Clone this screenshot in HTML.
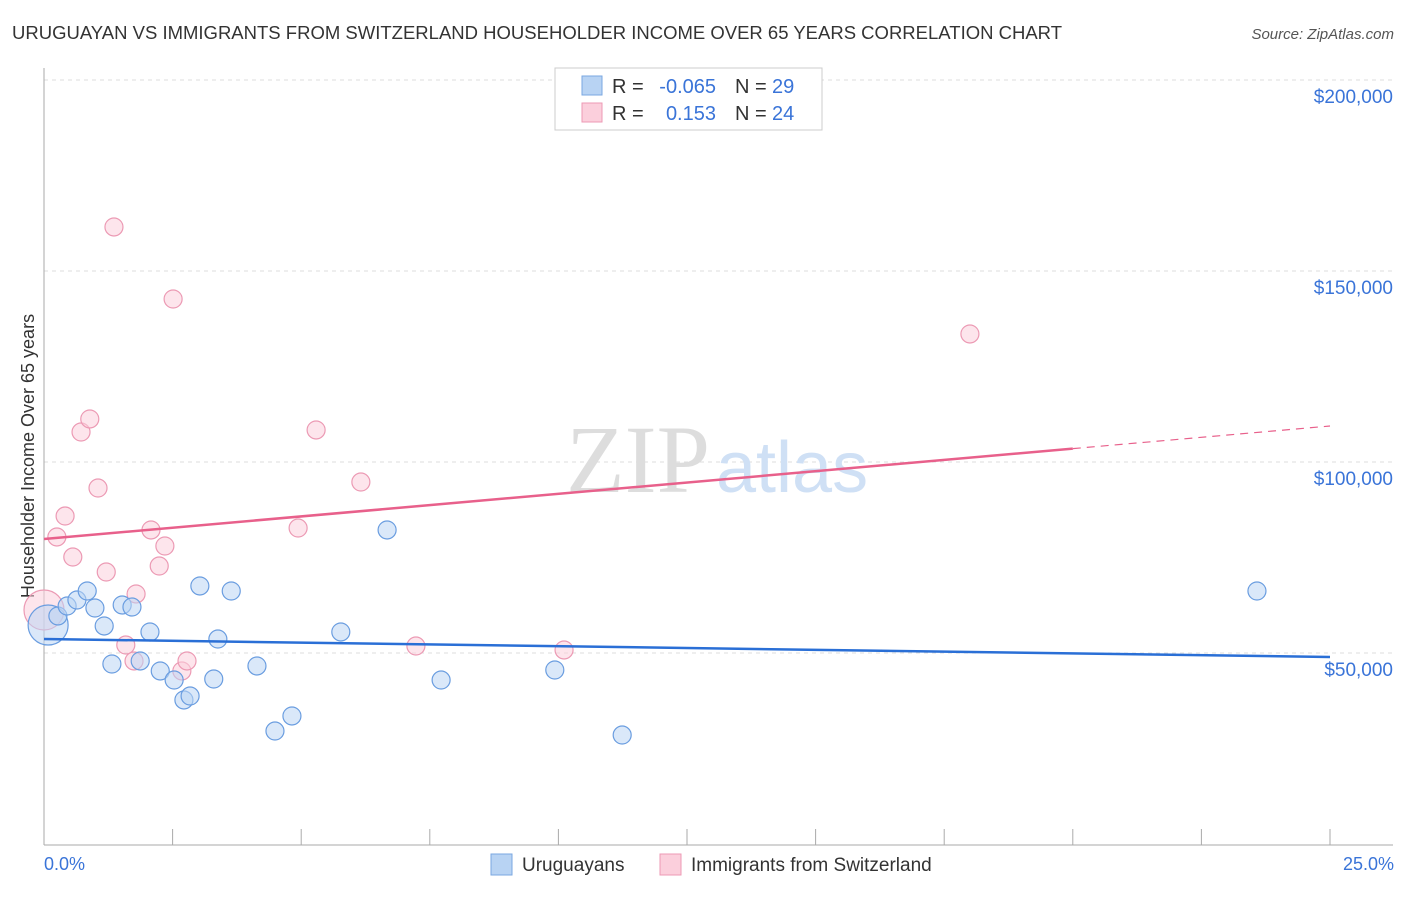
<!DOCTYPE html>
<html><head><meta charset="utf-8"><style>
body{margin:0;background:#fff;font-family:"Liberation Sans",sans-serif;}
</style></head><body>
<svg width="1406" height="892" xmlns="http://www.w3.org/2000/svg" font-family="Liberation Sans, sans-serif">
<text x="12" y="39" font-size="18" fill="#333" textLength="1050" lengthAdjust="spacingAndGlyphs">URUGUAYAN VS IMMIGRANTS FROM SWITZERLAND HOUSEHOLDER INCOME OVER 65 YEARS CORRELATION CHART</text>
<text x="1394" y="39" font-size="15" fill="#555" font-style="italic" text-anchor="end">Source: ZipAtlas.com</text>
<text transform="translate(34,456) rotate(-90)" font-size="18" fill="#333" text-anchor="middle">Householder Income Over 65 years</text>
<g id="grid"></g>
<text x="710" y="492" font-size="96" fill="#ddd" text-anchor="end" font-family="Liberation Serif, serif">ZIP</text>
<text x="716" y="492" font-size="72" fill="#cfe0f5">atlas</text>
<g id="marks"></g>
<g>
<rect x="555" y="68" width="267" height="62" fill="#fff" stroke="#ccc"/>
<rect x="582" y="76" width="20" height="19" fill="#b8d3f3" stroke="#7aa7e0"/>
<text x="612" y="93" font-size="20" fill="#333">R =</text>
<text x="716" y="93" font-size="20" fill="#3a74d8" text-anchor="end">-0.065</text>
<text x="735" y="93" font-size="20" fill="#333">N =</text>
<text x="772" y="93" font-size="20" fill="#3a74d8">29</text>
<rect x="582" y="103" width="20" height="19" fill="#fbcfdc" stroke="#ec9ab4"/>
<text x="612" y="120" font-size="20" fill="#333">R =</text>
<text x="716" y="120" font-size="20" fill="#3a74d8" text-anchor="end">0.153</text>
<text x="735" y="120" font-size="20" fill="#333">N =</text>
<text x="772" y="120" font-size="20" fill="#3a74d8">24</text>
</g>
<g>
<rect x="491" y="854" width="21" height="21" fill="#b8d3f3" stroke="#7aa7e0"/>
<text x="522" y="871" font-size="19" fill="#333">Uruguayans</text>
<rect x="660" y="854" width="21" height="21" fill="#fbcfdc" stroke="#ec9ab4"/>
<text x="691" y="871" font-size="19" fill="#333">Immigrants from Switzerland</text>
</g>
<text x="44" y="870" font-size="18" fill="#3a74d8">0.0%</text>
<text x="1394" y="870" font-size="18" fill="#3a74d8" text-anchor="end">25.0%</text>
</svg>
<script>
const yTicks=[50000,100000,150000,200000];
const yTickLabels=["$50,000","$100,000","$150,000","$200,000"];
const blueX=[0.08,0.27,0.45,0.64,0.84,0.99,1.17,1.32,1.52,1.71,1.87,2.06,2.26,2.53,2.72,2.84,3.03,3.30,3.38,3.64,4.14,4.49,4.82,5.77,6.67,7.72,9.93,11.24,23.58];
const blueY=[57330,59690,62300,63870,66230,61780,57070,47120,62570,62040,47910,55500,45290,42930,37700,38740,67540,43190,53660,66230,46600,29580,33510,55500,82200,42930,45550,28530,66230];
const pinkX=[0,0.25,0.41,0.56,0.72,0.89,1.05,1.21,1.36,1.59,1.75,1.79,2.08,2.24,2.35,2.51,2.68,2.78,4.94,5.29,6.16,7.23,10.11,18.00];
const pinkY=[61260,80370,85860,75130,107850,111260,93190,71200,161520,52090,47910,65450,82200,72770,78010,142670,45290,47910,82720,108380,94760,51830,50790,133510];
const blueTrend=[53660,48950];
const pinkTrend=[79840,109420];
const pinkSolidEnd=20;
const NS="http://www.w3.org/2000/svg";
const X=p=>44+p/25*1286;
const Y=v=>844-v/50000*191;
function mk(tag,a,parent){const e=document.createElementNS(NS,tag);for(const k in a)e.setAttribute(k,a[k]);parent.appendChild(e);return e;}
const grid=document.getElementById('grid');
yTicks.forEach((t,i)=>{
 const l=mk('line',{x1:44,x2:1393,y1:Y(t),y2:Y(t),stroke:'#ddd','stroke-dasharray':'4,4'},grid);
 
 
 const tx=mk('text',{x:1393,y:Y(t)+23,'font-size':19,fill:'#3a74d8','text-anchor':'end'},grid);
 tx.textContent=yTickLabels[i];
 
 
});
const ax=mk('line',{x1:44,x2:44,y1:68,y2:845,stroke:'#aaa'},grid);


const bx=mk('line',{x1:44,x2:1393,y1:845,y2:845,stroke:'#aaa'},grid);


for(let i=1;i<=10;i++){const t=mk('line',{x1:X(i*2.5),x2:X(i*2.5),y1:829,y2:845,stroke:'#aaa'},grid);
 
 }
const m=document.getElementById('marks');
function dots(xs,ys,fill,stroke,name){xs.forEach((x,i)=>{const r=(x<0.1)?20:9;
 const c=mk('circle',{cx:X(x),cy:Y(ys[i]),r:r,fill:fill,'fill-opacity':0.55,stroke:stroke,'stroke-width':1.2},m);
 
 });}
dots(pinkX,pinkY,'#fbd0dd','#ec9ab4','point-switzerland');
dots(blueX,blueY,'#bcd5f4','#6a9de0','point-uruguayan');
const bl=mk('line',{x1:X(0),y1:Y(blueTrend[0]),x2:X(25),y2:Y(blueTrend[1]),stroke:'#2a6fd6','stroke-width':2.5},m);


const pm=v=>pinkTrend[0]+(pinkTrend[1]-pinkTrend[0])*v/25;
const pl=mk('line',{x1:X(0),y1:Y(pm(0)),x2:X(pinkSolidEnd),y2:Y(pm(pinkSolidEnd)),stroke:'#e8608b','stroke-width':2.5},m);


const pd=mk('line',{x1:X(pinkSolidEnd),y1:Y(pm(pinkSolidEnd)),x2:X(25),y2:Y(pm(25)),stroke:'#e8608b','stroke-width':1.2,'stroke-dasharray':'8,6'},m);


</script>
</body></html>
